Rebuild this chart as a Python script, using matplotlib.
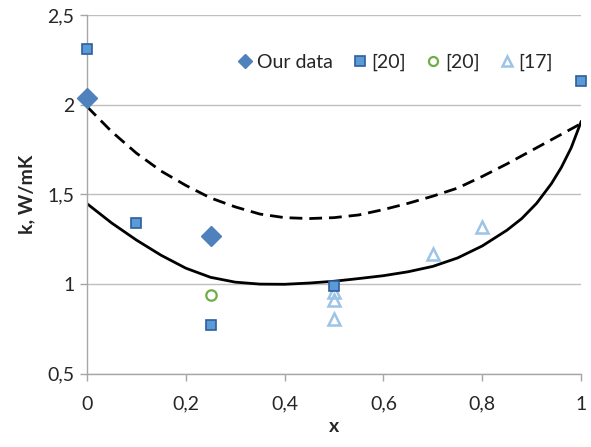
import matplotlib
matplotlib.use("Agg")
import matplotlib.pyplot as plt
from matplotlib.ticker import FuncFormatter, MultipleLocator

plt.rcParams['font.family'] = ['Lato', 'DejaVu Sans']

# Measured points
our_x = [0.0, 0.25]
our_k = [2.04, 1.27]

ref20_sq_x = [0.0, 0.1, 0.25, 0.5, 1.0]
ref20_sq_k = [2.31, 1.34, 0.77, 0.99, 2.13]

ref20_circ_x = [0.25]
ref20_circ_k = [0.94]

ref17_x = [0.5, 0.5, 0.5, 0.7, 0.8]
ref17_k = [0.955, 0.91, 0.805, 1.167, 1.317]

# Model curves
curve_x = [0.0, 0.05, 0.1, 0.15, 0.2, 0.25, 0.3, 0.35, 0.4, 0.45, 0.5,
           0.55, 0.6, 0.65, 0.7, 0.75, 0.8, 0.85, 0.88, 0.91, 0.94, 0.96,
           0.98, 1.0]
solid_k = [1.448, 1.34, 1.245, 1.16, 1.088, 1.037, 1.01, 0.999, 0.998, 1.005,
           1.015, 1.03, 1.046, 1.068, 1.098, 1.145, 1.212, 1.30, 1.365, 1.45,
           1.56, 1.65, 1.76, 1.905]
dashed_k = [1.99, 1.85, 1.73, 1.63, 1.55, 1.48, 1.43, 1.39, 1.37, 1.365,
            1.37, 1.385, 1.415, 1.45, 1.49, 1.535, 1.60, 1.67, 1.715, 1.76,
            1.805, 1.835, 1.865, 1.895]

fig = plt.figure(figsize=(5.91, 4.47), dpi=100)
ax = fig.add_axes([0.1472, 0.1644, 0.836, 0.8016])

grid_c = '#BFBFBF'
text_c = '#262626'

ax.plot(curve_x, dashed_k, color='black', lw=2.0, ls=(0, (4.6, 2.5)), zorder=2)
ax.plot(curve_x, solid_k, color='black', lw=2.0, zorder=2)

ax.plot(our_x, our_k, ls='none', marker='D', ms=10.5, mfc='#4F81BD',
        mec='#4F81BD', label='Our data', zorder=4, clip_on=False)
ax.plot(ref20_sq_x, ref20_sq_k, ls='none', marker='s', ms=7.5, mfc='#5B9BD5',
        mec='#2F5D9E', mew=1.2, label='[20]', zorder=4, clip_on=False)
ax.plot(ref20_circ_x, ref20_circ_k, ls='none', marker='o', ms=7.5, mfc='white',
        mec='#70AD47', mew=1.6, label='[20]', zorder=4, clip_on=False)
ax.plot(ref17_x, ref17_k, ls='none', marker='^', ms=8, mfc='none',
        mec='#9DC3E6', mew=1.8, label='[17]', zorder=3, clip_on=False)

ax.set_xlim(0, 1)
ax.set_ylim(0.5, 2.5)
ax.xaxis.set_major_locator(MultipleLocator(0.2))
ax.yaxis.set_major_locator(MultipleLocator(0.5))

fmt = FuncFormatter(lambda v, p: ('%g' % round(v, 2)).replace('.', ','))
ax.xaxis.set_major_formatter(fmt)
ax.yaxis.set_major_formatter(fmt)

ax.grid(axis='y', color=grid_c, lw=1.0, zorder=0)
ax.set_axisbelow(True)
for s in ['top', 'right']:
    ax.spines[s].set_visible(False)
for s in ['left', 'bottom']:
    ax.spines[s].set_color('#A6A6A6')
    ax.spines[s].set_linewidth(1.0)

ax.tick_params(axis='both', direction='out', length=5, width=1.0,
               color='#A6A6A6', labelsize=14, labelcolor=text_c)
ax.tick_params(axis='x', pad=11)
ax.tick_params(axis='y', pad=4)

ax.set_xlabel('x', fontsize=14, fontweight='bold', color=text_c, labelpad=4)
ax.set_ylabel('k, W/mK', fontsize=14, fontweight='bold', color=text_c, labelpad=9)

leg = ax.legend(loc='center', bbox_to_anchor=(0.622, 0.869), ncol=4, frameon=False,
                fontsize=14, handletextpad=0.1, columnspacing=0.9, handlelength=1.0,
                labelcolor=text_c)
# smaller symbols in the legend keys
for h, size in zip(leg.legend_handles, [7.5, 6.8, 6.5, 7.0]):
    h.set_markersize(size)

fig.savefig('out.png', dpi=100)
